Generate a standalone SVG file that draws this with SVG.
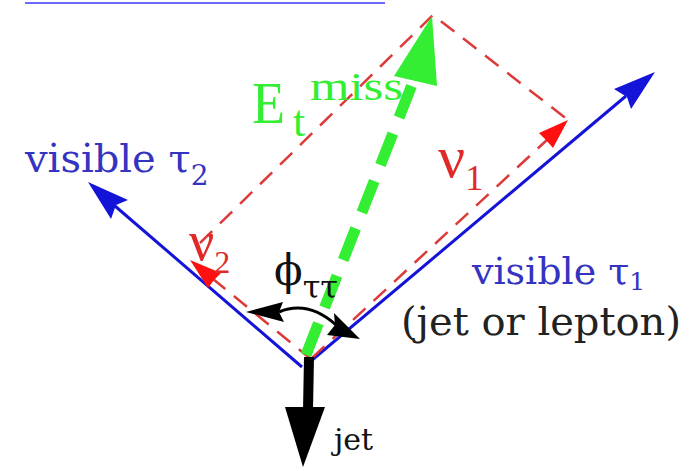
<svg xmlns="http://www.w3.org/2000/svg" width="693" height="471" viewBox="0 0 693 471">
<defs>
<style>
.dv{font-family:"DejaVu Serif","Liberation Serif",serif}
.lb{font-family:"Liberation Serif","DejaVu Serif",serif}
.blue{stroke:#1414d8;stroke-width:3;fill:none}
.red{stroke:#dd3a3a;stroke-width:2.5;fill:none;stroke-dasharray:17 11}
.bt{fill:#3434c0}
.rt{fill:#e02a2a}
.gt{fill:#33ee33}
</style>
</defs>
<rect width="693" height="471" fill="#fff"/>
<line x1="25" y1="3" x2="385" y2="3" stroke="#6a6aff" stroke-width="2"/>
<g id="connectors">
<g id="tau1-arrow">
<line class="blue" x1="305" y1="366" x2="626" y2="96"/>
<polygon points="655,72 631,109 627,97 614,89" fill="#1414d8"/>
</g>
<g id="tau2-arrow">
<line class="blue" x1="302" y1="367" x2="115" y2="206"/>
<polygon points="88,182 128,200 116,205 111,219" fill="#1414d8"/>
</g>
<g id="nu1-arrow">
<path class="red" d="M312,358 L548,139"/>
<polygon points="568,120 553,148 546,140 539,133" fill="#ff1010"/>
</g>
<g id="nu2-arrow">
<path class="red" d="M312,360 L213,279"/>
<polygon points="190,260 221,273 214,280 208,288" fill="#ff1010"/>
</g>
<path class="red" d="M200,243 L433,15 L568,120"/>
<g id="met-arrow">
<line x1="306" y1="355" x2="413" y2="82" stroke="#33ee33" stroke-width="11" stroke-dasharray="34 17"/>
<polygon points="432,16 394,76 437,86" fill="#33ee33"/>
</g>
<g id="jet-arrow">
<line x1="309" y1="357" x2="308" y2="410" stroke="#000" stroke-width="10"/>
<polygon points="285,407 325,407 303,467" fill="#000"/>
</g>
<g id="phi-arrow">
<path d="M279,312 Q308,300 336,325" stroke="#000" stroke-width="3" fill="none"/>
<polygon points="246,312 283,302 279,312 284,322" fill="#000"/>
<polygon points="360,339 334,313 335,325 327,335" fill="#000"/>
</g>
</g>
<g id="label-tau2">
<text class="dv bt" x="25" y="172" font-size="40">visible τ<tspan font-size="28" dy="13">2</tspan></text>
</g>
<g id="label-met">
<text class="lb gt" x="252" y="123" font-size="60" textLength="33" lengthAdjust="spacingAndGlyphs">E</text>
<text class="lb gt" x="293" y="136" font-size="44">t</text>
<text class="lb gt" x="310" y="100" font-size="40" textLength="93" lengthAdjust="spacingAndGlyphs">miss</text>
</g>
<g id="label-nu1">
<text class="lb rt" x="438" y="177" font-size="60">ν<tspan font-size="36" dy="13">1</tspan></text>
</g>
<g id="label-nu2">
<text class="lb rt" x="189" y="260" font-size="56">ν<tspan font-size="32" dy="13">2</tspan></text>
</g>
<g id="label-phi">
<text class="dv" x="274" y="285" font-size="42" fill="#111">ϕ<tspan font-size="32" dy="13">ττ</tspan></text>
</g>
<g id="label-tau1">
<text class="dv bt" x="472" y="284" font-size="38">visible τ<tspan font-size="25" dy="6">1</tspan></text>
<text class="dv" x="401" y="335" font-size="40" fill="#222">(jet or lepton)</text>
</g>
<g id="label-jet">
<text class="dv" x="334" y="450" font-size="30" fill="#111">jet</text>
</g>
</svg>
